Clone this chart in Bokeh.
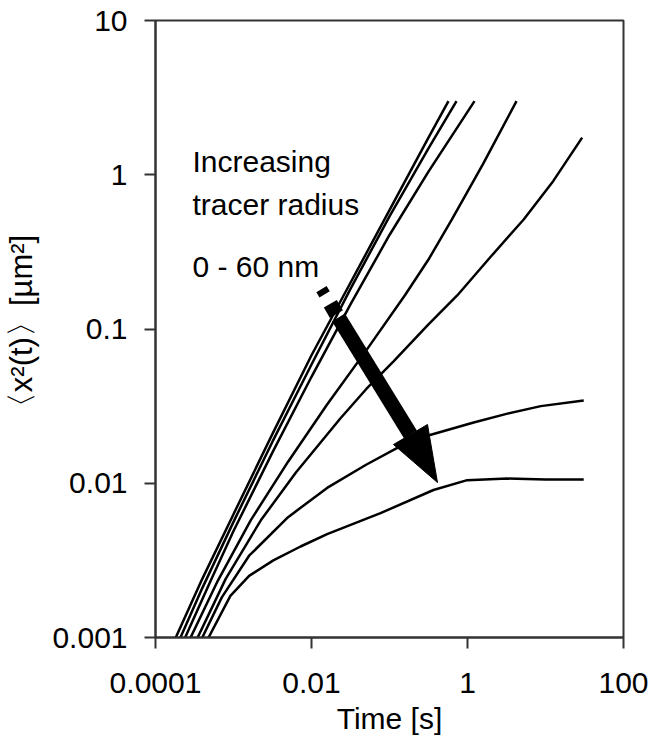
from bokeh.plotting import figure
from bokeh.models import FixedTicker, Label
from bokeh.embed import file_html
from bokeh.resources import INLINE

X_TICKS = [0.0001, 0.01, 1, 100]
X_TICK_LABELS = ["0.0001", "0.01", "1", "100"]
Y_TICKS = [0.001, 0.01, 0.1, 1, 10]
Y_TICK_LABELS = ["0.001", "0.01", "0.1", "1", "10"]

# time [s] and MSD [um^2] for each tracer radius
T1 = [1.82e-4, 3.98e-4, 1e-3, 3.16e-3, 0.01, 0.0316, 0.1, 0.316, 0.570]
M1 = [0.001, 0.0024, 0.0063, 0.0209, 0.0676, 0.1995, 0.589, 1.74, 3.0]
T2 = [2.09e-4, 3.98e-4, 1e-3, 3.16e-3, 0.01, 0.0316, 0.1, 0.316, 0.723]
M2 = [0.001, 0.00209, 0.00562, 0.0186, 0.0589, 0.182, 0.537, 1.48, 3.0]
T3 = [2.40e-4, 5.01e-4, 1e-3, 3.16e-3, 0.01, 0.0316, 0.1, 0.316, 1.23]
M3 = [0.001, 0.00229, 0.0049, 0.01585, 0.049, 0.1445, 0.407, 1.047, 3.0]
T4 = [2.82e-4, 6.31e-4, 1.66e-3, 5.01e-3, 0.01585, 0.0501, 0.1585, 0.316, 0.631, 1.585, 4.25]
M4 = [0.001, 0.00234, 0.00575, 0.0138, 0.0324, 0.0724, 0.166, 0.282, 0.513, 1.175, 3.0]
T5 = [3.47e-4, 7.94e-4, 2.24e-3, 6.31e-3, 0.0234, 0.0501, 0.1127, 0.316, 0.738, 1.995, 5.25, 12.6, 29.5]
M5 = [0.001, 0.0024, 0.00575, 0.01175, 0.0263, 0.0407, 0.0617, 0.107, 0.165, 0.295, 0.513, 0.912, 1.74]
T6 = [3.98e-4, 7.08e-4, 1.585e-3, 5.01e-3, 0.01585, 0.0501, 0.126, 0.339, 1.20, 3.16, 8.71, 30.9]
M6 = [0.001, 0.00182, 0.00339, 0.00603, 0.00933, 0.01318, 0.01698, 0.02065, 0.02477, 0.02818, 0.03162, 0.03436]
T7 = [4.79e-4, 9.12e-4, 1.585e-3, 3.24e-3, 7.24e-3, 0.01585, 0.0767, 0.366, 0.991, 3.24, 10, 30.9]
M7 = [0.001, 0.00186, 0.00251, 0.00316, 0.00389, 0.00468, 0.0064, 0.00904, 0.01047, 0.01072, 0.01059, 0.01057]

CURVES = [(T1, M1), (T2, M2), (T3, M3), (T4, M4), (T5, M5), (T6, M6), (T7, M7)]

# arrow annotation (data coordinates)
ARROW_SHAFT_T = [0.02219, 0.1858]
ARROW_SHAFT_M = [0.1187, 0.0207]
ARROW_HEAD_T = [0.1125, 0.4124, 0.3070]
ARROW_HEAD_M = [0.01783, 0.01011, 0.02404]
DASH2_T = [0.01742, 0.02085]
DASH2_M = [0.1457, 0.1249]
DASH1_T = [0.01343, 0.01472]
DASH1_M = [0.1812, 0.1679]

ANNOT_TEXT = ["Increasing", "tracer radius", "0 - 60 nm"]
ANNOT_T = [2.98e-4, 2.98e-4, 2.98e-4]
ANNOT_M = [1.22, 0.645, 0.256]

FONT = "Liberation Sans"
AX = "#333333"

p = figure(frame_width=468, frame_height=617,
           x_axis_type="log", y_axis_type="log",
           x_range=(1e-4, 100), y_range=(1e-3, 10),
           output_backend="svg", toolbar_location=None,
           min_border_left=155, min_border_right=42,
           min_border_top=20, min_border_bottom=113)

p.background_fill_color = "white"
p.border_fill_color = "white"
p.outline_line_color = AX
p.outline_line_width = 2
p.grid.visible = False

p.xaxis.ticker = FixedTicker(ticks=X_TICKS)
p.yaxis.ticker = FixedTicker(ticks=Y_TICKS)
p.xaxis.major_label_overrides = dict(zip(X_TICKS, X_TICK_LABELS))
p.yaxis.major_label_overrides = dict(zip(Y_TICKS, Y_TICK_LABELS))

for ax in (p.xaxis, p.yaxis):
    ax.axis_line_color = AX
    ax.axis_line_width = 2
    ax.major_tick_line_color = AX
    ax.major_tick_line_width = 2
    ax.major_tick_out = 11
    ax.major_tick_in = 0
    ax.minor_tick_line_color = None
    ax.major_label_text_font = FONT
    ax.major_label_text_font_size = "30px"
    ax.major_label_text_color = "black"
    ax.axis_label_text_font = FONT
    ax.axis_label_text_font_size = "30px"
    ax.axis_label_text_font_style = "normal"
    ax.axis_label_text_color = "black"

p.xaxis.axis_label = "Time [s]"
p.yaxis.axis_label = "\u3008x\u00b2(t)\u3009[\u00b5m\u00b2]"
p.yaxis.axis_label_text_font_size = "31px"
p.xaxis.major_label_standoff = 24
p.xaxis.axis_label_standoff = 6
p.yaxis.major_label_standoff = 17
p.yaxis.axis_label_standoff = 10

for t, m in CURVES:
    p.line(t, m, line_color="black", line_width=2.5)

# arrow
p.segment(x0=[ARROW_SHAFT_T[0]], y0=[ARROW_SHAFT_M[0]], x1=[ARROW_SHAFT_T[1]], y1=[ARROW_SHAFT_M[1]],
          line_color="black", line_width=15, line_cap="butt")
p.segment(x0=[DASH2_T[0]], y0=[DASH2_M[0]], x1=[DASH2_T[1]], y1=[DASH2_M[1]],
          line_color="black", line_width=15, line_cap="butt")
p.segment(x0=[DASH1_T[0]], y0=[DASH1_M[0]], x1=[DASH1_T[1]], y1=[DASH1_M[1]],
          line_color="black", line_width=12, line_cap="butt")
p.patch(ARROW_HEAD_T, ARROW_HEAD_M, fill_color="black", line_color="black", line_width=1)

for txt, tx, ty in zip(ANNOT_TEXT, ANNOT_T, ANNOT_M):
    p.add_layout(Label(x=tx, y=ty, text=txt, text_font=FONT, text_font_size="30px",
                       text_color="black", text_baseline="alphabetic", text_align="left"))

open("out.html", "w").write(file_html(p, INLINE))
